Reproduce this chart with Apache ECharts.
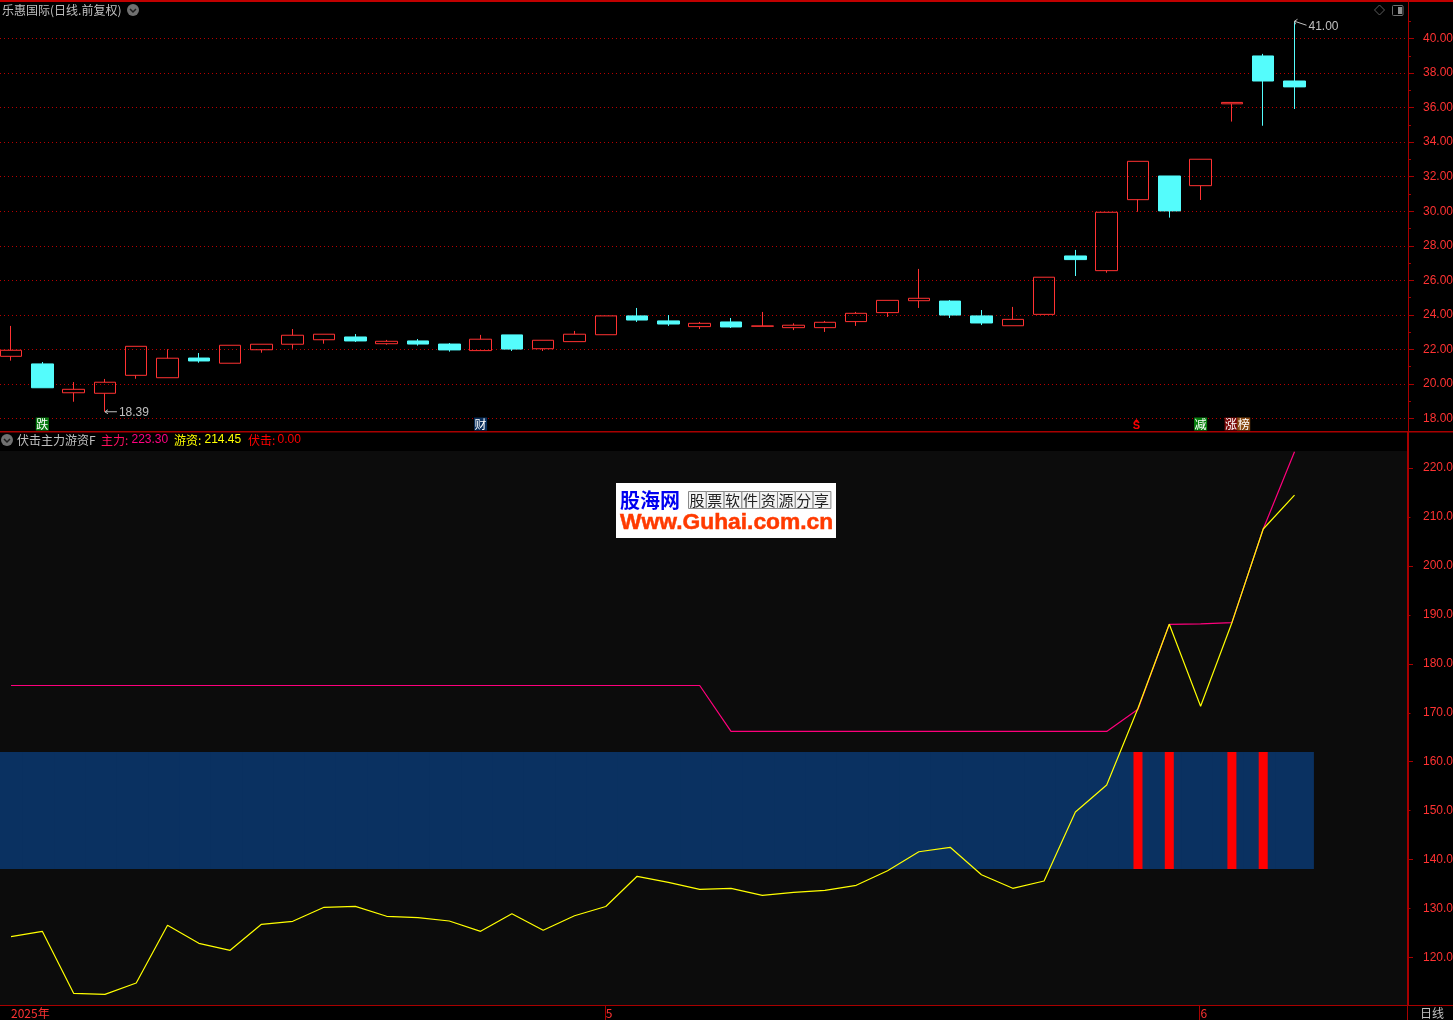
<!DOCTYPE html>
<html>
<head>
<meta charset="utf-8">
<style>html,body{margin:0;padding:0;background:#000;overflow:hidden}#c{width:1453px;height:1020px}</style>
<script src="https://cdn.jsdelivr.net/npm/echarts@6/dist/echarts.min.js"></script>
</head>
<body>
<div id="c"></div>
<script>
const opens  = [21.60,21.16,19.49,19.46,20.50,20.36,21.50,21.20,21.98,22.30,22.56,22.72,22.33,22.49,22.31,21.93,22.84,22.04,22.45,22.85,23.94,23.65,23.32,23.59,23.34,23.26,23.26,23.61,24.13,24.82,24.80,23.94,23.37,24.03,27.41,26.56,30.67,32.04,31.48,36.22,38.99,37.54];
const closes = [21.95,19.78,19.69,20.10,22.18,21.49,21.33,22.24,22.30,22.82,22.88,22.49,22.47,22.31,21.97,22.59,22.02,22.53,22.88,23.94,23.70,23.47,23.51,23.30,23.36,23.40,23.57,24.09,24.84,24.96,23.99,23.53,23.74,26.18,27.20,29.94,32.89,30.02,33.01,36.30,37.54,37.20];
const lows   = [21.35,19.78,18.97,18.39,20.30,20.36,21.23,21.20,21.81,22.04,22.33,22.43,22.27,22.22,21.87,21.93,21.91,21.91,22.45,22.85,23.59,23.36,23.18,23.24,23.33,23.12,23.01,23.36,23.88,24.40,23.82,23.41,23.37,24.03,26.25,26.44,29.97,29.63,30.65,35.19,34.95,35.92];
const highs  = [23.36,21.27,20.11,20.29,22.18,22.01,21.79,22.24,22.30,23.18,22.88,22.89,22.55,22.60,22.37,22.84,22.84,22.53,23.07,23.94,24.40,23.99,23.59,23.82,24.17,23.51,23.65,24.17,24.84,26.66,24.86,24.28,24.46,26.18,27.76,29.94,32.89,32.04,33.01,36.30,39.11,41.00];
const youzi  = [124.25,125.35,112.69,112.48,114.79,126.58,122.90,121.47,126.78,127.40,130.26,130.46,128.42,128.13,127.46,125.35,128.95,125.56,128.54,130.42,136.59,135.36,133.93,134.14,132.71,133.32,133.73,134.75,137.73,141.61,142.51,136.92,134.14,135.63,149.72,155.24,170.91,188.07,171.32,188.40,207.54,214.45];
const zhuli  = [175.57,175.57,175.57,175.57,175.57,175.57,175.57,175.57,175.57,175.57,175.57,175.57,175.57,175.57,175.57,175.57,175.57,175.57,175.57,175.57,175.57,175.57,175.57,166.19,166.19,166.19,166.19,166.19,166.19,166.19,166.19,166.19,166.19,166.19,166.19,166.19,170.70,188.07,188.17,188.40,207.54,223.30];
const bandLow = 138.08, bandHigh = 162.00;
const fujiIndex = [36,37,39,40];
const priceTicks = [18,20,22,24,26,28,30,32,34,36,38,40];
const priceMinor = [19,21,23,25,27,29,31,33,35,37,39,41];
const indTicks = [120,140,160,180,200,220];
const indMinorTicks = [130,150,170,190,210];
const indLabels = [120,130,140,150,160,170,180,190,200,210,220];
const dateIndex = [0,19,38];
const dateNames = ['2025年','5','6'];
const dateTickIndex = [18.98,37.96];
const signalIndex = [1,15,36,38,39,39];
const signalText = ['跌','财','S','减','涨','榜'];
const signalColor = ['#087a10','#0a2f5c','','#088010','#7c0a0a','#8a4a12'];
const noteIndex = [3,41];
const noteValue = [18.39,41.00];

const RED='#a80000', LAB='#ff3232', CY='#54fcfc', HOL='#ff3232';
const FONT='"Liberation Sans","Noto Sans CJK SC",sans-serif';
const CJK='"Noto Sans CJK SC","Liberation Sans",sans-serif';
const XMIN=-0.3514, XMAX=44.625;
const candles=opens.map((o,i)=>[i,o,closes[i],lows[i],highs[i]]);
const pts=a=>a.map((v,i)=>[i,v]);

function bar(halfWidth,color){
  return function(p,api){
    const i=api.value(0);
    const a=api.coord([i-halfWidth,api.value(2)]), b=api.coord([i+halfWidth,api.value(1)]);
    return {type:'rect',shape:{x:a[0],y:a[1],width:b[0]-a[0],height:b[1]-a[1]},style:{fill:color}};
  };
}
function chev(cx,cy){
  return [
    {type:'circle',shape:{cx:cx,cy:cy,r:6},style:{fill:'#707070'}},
    {type:'polyline',shape:{points:[[cx-3,cy-1],[cx,cy+2],[cx+3,cy-1]]},style:{stroke:'#1c1c1c',lineWidth:1.5,fill:null}}
  ];
}
function txt(x,y,s,fill,font){
  return {type:'text',x:x,y:y,style:{text:s,fill:fill,font:'12px '+(font||FONT),verticalAlign:'middle'}};
}
function hr(x,y,w,h,c){return {type:'rect',shape:{x:x,y:y,width:w,height:h},style:{fill:c||RED},silent:true};}

const logoChars='股票软件资源分享'.split('');
const logo=[hr(616,483,220,55,'#ffffff'),
  {type:'text',x:620,y:500,style:{text:'股海网',fill:'#0000f0',font:'bold 20px '+CJK,verticalAlign:'middle'}},
  {type:'text',x:620,y:523,style:{text:'Www.Guhai.com.cn',fill:'#ff3a00',stroke:'#ff3a00',lineWidth:0.5,font:'bold 22.8px "Liberation Sans"',verticalAlign:'middle'}}];
logoChars.forEach((c,k)=>{
  const x=688+k*17.8;
  logo.push({type:'rect',shape:{x:x+.5,y:491.5,width:17.8,height:17},style:{fill:'#f4f4f4',stroke:'#8a8a8a',lineWidth:1}});
  logo.push({type:'text',x:x+9,y:500,style:{text:c,fill:'#222',font:'15px '+CJK,align:'center',verticalAlign:'middle'}});
});

const option={
  animation:false,
  backgroundColor:'#000',
  grid:[
    {left:0,top:0,width:1408,height:431,show:false,outerBoundsMode:'none'},
    {left:0,top:451,width:1408,height:554,show:true,backgroundColor:'#0c0c0c',borderWidth:0,outerBoundsMode:'none'}
  ],
  xAxis:[
    {type:'value',gridIndex:0,min:XMIN,max:XMAX,show:false,splitLine:{show:false}},
    {type:'value',gridIndex:1,min:XMIN,max:XMAX,position:'bottom',splitLine:{show:false},
     axisLine:{show:false},
     axisTick:{show:true,length:15,customValues:dateTickIndex,lineStyle:{color:RED,width:1}},
     axisLabel:{show:true,customValues:dateIndex,color:LAB,fontSize:12,fontFamily:CJK,margin:2,align:'left',
       formatter:v=>dateNames[dateIndex.indexOf(v)]||''}}
  ],
  yAxis:[
    {type:'value',gridIndex:0,position:'right',min:17.276,max:42.23,
     axisLine:{show:true,onZero:false,lineStyle:{color:RED,width:1}},
     axisTick:{show:true,length:6,customValues:priceTicks,lineStyle:{color:RED}},
     axisLabel:{customValues:priceTicks,color:LAB,fontSize:12,fontFamily:FONT,margin:15,padding:[2,0,0,0],formatter:v=>v.toFixed(2)},
     splitLine:{show:true,lineStyle:{color:'#b80000',width:1,type:[1,3]}}},
    {type:'value',gridIndex:0,position:'left',offset:-1408,min:17.276,max:42.23,
     axisLine:{show:false},
     axisTick:{show:true,inside:true,length:3,customValues:priceMinor,lineStyle:{color:RED}},
     axisLabel:{show:false},splitLine:{show:false}},
    {type:'value',gridIndex:1,position:'right',min:110.30,max:223.47,
     axisLine:{show:true,onZero:false,lineStyle:{color:RED,width:2}},
     axisTick:{show:true,length:5,customValues:indTicks,lineStyle:{color:RED}},
     axisLabel:{customValues:indLabels,color:LAB,fontSize:12,fontFamily:FONT,margin:15,padding:[2,0,0,0],formatter:v=>v.toFixed(2)},
     splitLine:{show:false}},
    {type:'value',gridIndex:1,position:'left',offset:-1408,min:110.30,max:223.47,
     axisLine:{show:false},
     axisTick:{show:true,inside:true,length:2.5,customValues:indMinorTicks,lineStyle:{color:RED}},
     axisLabel:{show:false},splitLine:{show:false}}
  ],
  series:[
    {type:'candlestick',name:'K',xAxisIndex:0,yAxisIndex:0,data:candles,barWidth:22,z:3,
     itemStyle:{color:'rgba(0,0,0,0)',color0:CY,borderColor:HOL,borderColor0:CY,borderWidth:1}},
    {type:'custom',name:'notes',xAxisIndex:0,yAxisIndex:0,z:4,data:noteIndex.map((i,k)=>[i,noteValue[k]]),
     renderItem:function(p,api){
       const c=api.coord([api.value(0),api.value(1)]), v=api.value(1), hi=p.dataIndex===1;
       const pts2=hi?[[c[0],c[1]],[c[0]+12,c[1]+4]]:[[c[0],c[1]],[c[0]+12,c[1]]];
       const head=hi?[[c[0]+3,c[1]-2],[c[0],c[1]],[c[0]+1,c[1]+3]]:[[c[0]+3,c[1]-2],[c[0],c[1]],[c[0]+3,c[1]+2]];
       return {type:'group',children:[
         {type:'polyline',shape:{points:pts2},style:{stroke:'#c0c0c0',lineWidth:1,fill:null}},
         {type:'polyline',shape:{points:head},style:{stroke:'#c0c0c0',lineWidth:1,fill:null}},
         {type:'text',x:c[0]+14,y:c[1]+(hi?5:0.5),style:{text:v.toFixed(2),fill:'#c0c0c0',font:'12px '+FONT,verticalAlign:'middle'}}
       ]};
     }},
    {type:'custom',name:'signals',xAxisIndex:0,yAxisIndex:0,z:5,clip:false,
     data:signalIndex.map(i=>[i,17.68]),
     renderItem:function(p,api){
       const k=p.dataIndex, c=api.coord([api.value(0),api.value(1)]);
       if(signalText[k]==='S'){
         const x=c[0]-1.5;
         return {type:'group',children:[
           {type:'polygon',shape:{points:[[x,c[1]-5],[x-2.5,c[1]-2.5],[x+2.5,c[1]-2.5]]},style:{fill:'#ff0000'}},
           {type:'text',x:x,y:c[1]+2,style:{text:'S',fill:'#ff0000',font:'bold 11px '+FONT,align:'center',verticalAlign:'middle'}}
         ]};
       }
       const dx=signalIndex[k]===signalIndex[k-1]?11.8:(signalIndex[k]===signalIndex[k+1]?-0.8:0);
       const x=c[0]+dx;
       return {type:'group',children:[
         {type:'rect',shape:{x:x-6.5,y:c[1]-6.5,width:13,height:13},style:{fill:signalColor[k]}},
         {type:'text',x:x,y:c[1],style:{text:signalText[k],fill:'#fff',font:'12px '+CJK,align:'center',verticalAlign:'middle'}}
       ]};
     }},
    {type:'custom',name:'band',xAxisIndex:1,yAxisIndex:2,z:1,
     data:opens.map((_,i)=>[i,bandLow,bandHigh]),encode:{x:0,y:[1,2]},renderItem:bar(0.62,'#0a3161')},
    {type:'custom',name:'伏击',xAxisIndex:1,yAxisIndex:2,z:2,
     data:fujiIndex.map(i=>[i,bandLow,bandHigh]),encode:{x:0,y:[1,2]},renderItem:bar(0.144,'#ff0000')},
    {type:'line',name:'主力',xAxisIndex:1,yAxisIndex:2,data:pts(zhuli),showSymbol:false,z:3,
     lineStyle:{color:'#ff007c',width:1.2}},
    {type:'line',name:'游资',xAxisIndex:1,yAxisIndex:2,data:pts(youzi),showSymbol:false,z:4,
     lineStyle:{color:'#ffff00',width:1.2}}
  ],
  graphic:{elements:[
    hr(0,0,1453,2,'#c00000'),
    hr(0,431,1453,1.5),
    hr(0,1005,1453,1),
    hr(1407,432,2,19),
    hr(1407,1005,1,15),
    txt(2,10,'乐惠国际(日线.前复权)','#c0c0c0',CJK),
    ...chev(133,10),
    {type:'polygon',shape:{points:[[1379.5,5],[1384.5,10],[1379.5,15],[1374.5,10]]},style:{stroke:'#5c5c5c',fill:null,lineWidth:1}},
    {type:'rect',shape:{x:1392.5,y:5.5,width:10.5,height:10,r:1},style:{stroke:'#707070',fill:'#000',lineWidth:1}},
    hr(1398,7,4,7,'#909090'),
    ...chev(7,440),
    txt(17,440,'伏击主力游资F','#c0c0c0',CJK),
    txt(101,440,'主力:','#ff1060',CJK),
    txt(131.5,440,'223.30','#ff0080'),
    txt(174,440,'游资:','#ffff00',CJK),
    txt(204.5,440,'214.45','#ffff00'),
    txt(248,440,'伏击:','#ff0000',CJK),
    txt(277.5,440,'0.00','#ff0000'),
    txt(1420,1013,'日线','#c0c0c0',CJK),
    ...logo
  ]}
};
echarts.init(document.getElementById('c'),null,{renderer:'canvas'}).setOption(option);
</script>
</body>
</html>
